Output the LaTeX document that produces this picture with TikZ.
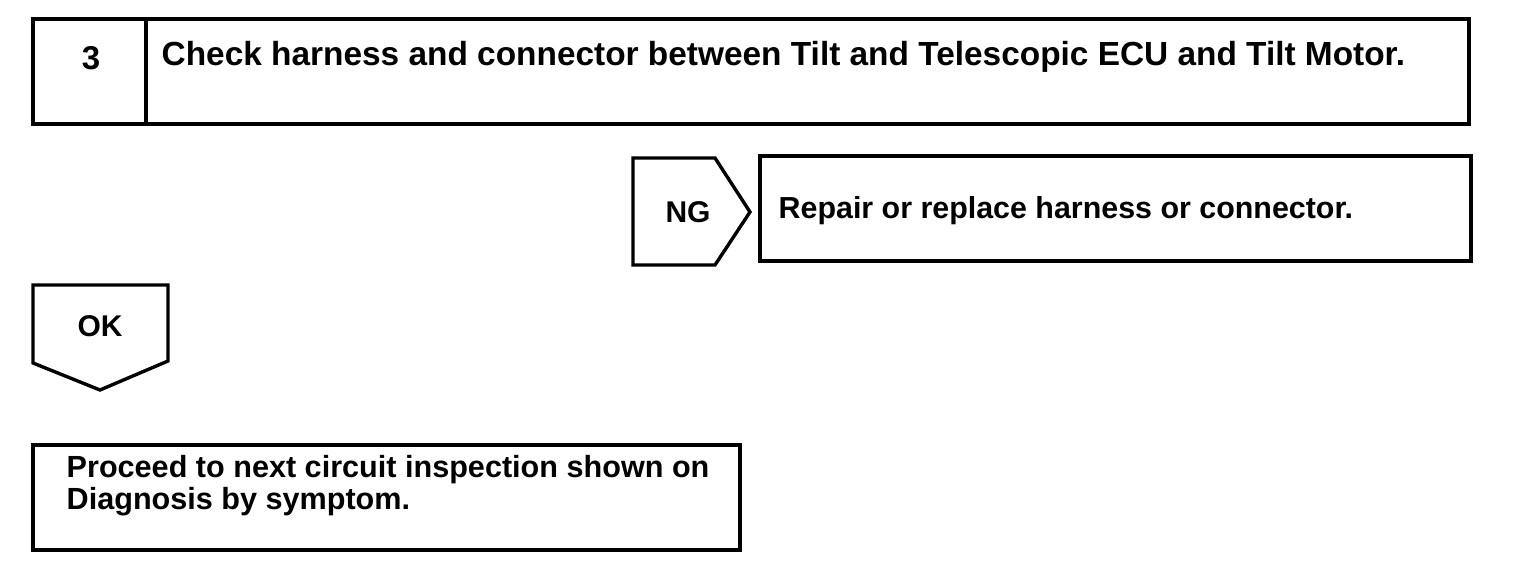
\documentclass[tikz,border=0pt]{standalone}
\usepackage{fontspec}
\setmainfont{Liberation Sans}
\begin{document}
\begin{tikzpicture}[x=0.5pt,y=-0.5pt,
  line width=1.7pt, line join=miter,
  txt/.style={font=\bfseries\fontsize{15.3}{16}\selectfont, inner sep=0pt, anchor=west},
  ctxt/.style={font=\bfseries\fontsize{15}{16}\selectfont, inner sep=0pt}]
\useasboundingbox (0,0) rectangle (1520,588);
% top box
\draw (33,19) rectangle (1469,124);
\draw (146,19) -- (146,124);
\node[ctxt, font=\bfseries\fontsize{16.5}{18}\selectfont] (num) at (91,58) {3};
\node[txt, font=\bfseries\fontsize{16.7}{18}\selectfont] (title) at (160,57) {Check harness and connector between Tilt and Telescopic ECU and Tilt Motor.};
% NG
\draw (633,158) -- (715,158) -- (750,212) -- (715,265) -- (633,265) -- cycle;
\node[ctxt] (ng) at (688,212) {NG};
\draw (760,156) rectangle (1471,261);
\node[txt, font=\bfseries\fontsize{15.2}{16}\selectfont] (repair) at (777,211) {Repair or replace harness or connector.};
% OK
\draw (33,285) -- (168,285) -- (168,361) -- (100,390) -- (33,363) -- cycle;
\node[ctxt] (ok) at (100,326) {OK};
% bottom box
\draw (33,445) rectangle (740,550);
\node[txt, align=left, anchor=north west, font=\bfseries\fontsize{15.3}{16}\selectfont] (proceed) at (65,454) {Proceed to next circuit inspection shown on\\Diagnosis by symptom.};
\end{tikzpicture}
\end{document}
